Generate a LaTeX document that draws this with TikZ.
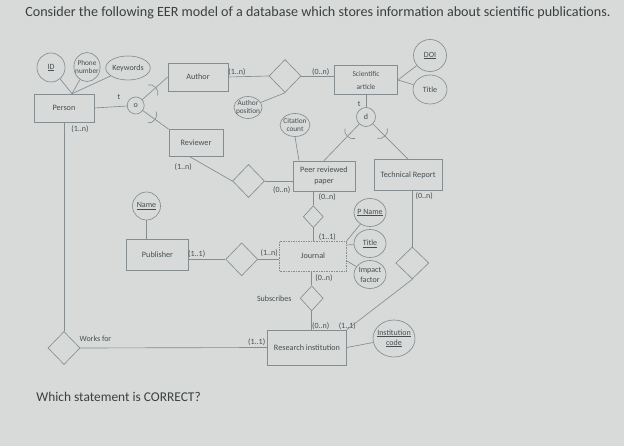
\documentclass[tikz,border=0pt]{standalone}
\usepackage{fontspec}
\setmainfont{Carlito}
\usetikzlibrary{shapes.geometric,calc}
\definecolor{bg}{HTML}{D7DAD8}
\definecolor{ln}{HTML}{858D90}
\definecolor{tx}{HTML}{474E52}
\definecolor{hd}{HTML}{3A3F42}
\begin{document}
\begin{tikzpicture}[x=1pt,y=-1pt,color=ln,line width=.65pt,
  ent/.style={draw=ln,rectangle,inner sep=1pt,align=center,text=tx,font=\fontsize{8.2}{10.5}\selectfont},
  rel/.style={draw=ln,diamond,inner sep=0pt,minimum width=32pt,minimum height=33pt},
  att/.style={draw=ln,ellipse,inner sep=0pt,align=center,text=tx,font=\fontsize{8}{10}\selectfont},
  sm/.style={font=\fontsize{7.3}{8.5}\selectfont},
  card/.style={text=tx,inner sep=0pt,font=\fontsize{8}{9}\selectfont},
  lbl/.style={text=tx,inner sep=0pt,font=\fontsize{8}{9}\selectfont},
  ques/.style={anchor=base west,inner sep=0pt,text=hd}]
\useasboundingbox (0,0) rectangle (624,446);
\fill[bg] (0,0) rectangle (624,446);
\node[ques,font=\fontsize{14.1}{16}\selectfont] (q1) at (25,16.7) {Consider the following EER model of a database which stores information about scientific publications.};
\node[ques,font=\fontsize{13.4}{15}\selectfont] (q2) at (36,401.5) {Which statement is CORRECT?};
\node[ent,minimum width=60pt,minimum height=28pt] (person) at (64,108) {Person};
\node[ent,minimum width=60pt,minimum height=28pt] (author) at (198,77) {Author};
\node[ent,minimum width=54pt,minimum height=27pt] (reviewer) at (196,143) {Reviewer};
\node[ent,minimum width=63pt,minimum height=29pt,font=\fontsize{7.4}{13}\selectfont] (sci) at (366,80) {Scientific\\article};
\node[ent,minimum width=62pt,minimum height=30pt] (peer) at (324,176) {Peer reviewed\\paper};
\node[ent,minimum width=68pt,minimum height=31pt] (tech) at (408,175) {Technical Report};
\node[ent,minimum width=62pt,minimum height=31pt] (publisher) at (157.5,255) {Publisher};
\node[ent,densely dotted,minimum width=67pt,minimum height=30pt] (journal) at (313,256) {Journal};
\node[ent,minimum width=79pt,minimum height=35pt] (research) at (307,347.5) {Research institution};
\node[att,minimum width=28pt,minimum height=29pt] (id) at (51,67.5) {\underline{ID}};
\node[att,sm,inner xsep=-2.5pt,minimum width=26pt,minimum height=29pt] (phone) at (87,67) {Phone\\number};
\node[att,minimum width=44pt,minimum height=24pt] (keywords) at (128,68) {Keywords};
\node[att,sm,inner xsep=-2.5pt,minimum width=28pt,minimum height=22pt] (apos) at (248,107.5) {Author\\position};
\node[att,minimum width=33pt,minimum height=32pt] (doi) at (430,55.5) {\underline{DOI}};
\node[att,minimum width=34pt,minimum height=29pt] (stitle) at (430,89.5) {Title};
\node[att,sm,inner xsep=-1pt,minimum width=28pt,minimum height=23pt] (citation) at (295,125) {Citation\\count};
\node[att,minimum width=28pt,minimum height=28pt] (name) at (146.5,206) {\underline{Name}};
\node[att,inner xsep=-1.5pt,minimum width=32pt,minimum height=28pt] (pname) at (370,212.5) {\underline{P Name}};
\node[att,minimum width=32pt,minimum height=28pt] (jtitle) at (370,243.5) {\underline{Title}};
\node[att,minimum width=32pt,minimum height=28pt] (impact) at (370,274.5) {Impact\\factor};
\node[att,inner xsep=-2pt,minimum width=42pt,minimum height=37pt] (icode) at (394,338.5) {\underline{Institution}\\\underline{code}};
\node[lbl,draw=ln,circle,minimum size=17pt] (o) at (135.7,105.5) {o};
\node[lbl,draw=ln,circle,minimum size=19pt] (d) at (366,117) {d};
\node[rel] (ra) at (285,76) {};
\node[rel] (rp) at (248.5,181) {};
\node[rel,minimum width=20pt,minimum height=22pt] (pj) at (313.3,216.7) {};
\node[rel] (pubj) at (241.7,259.3) {};
\node[rel,minimum width=23pt,minimum height=25pt] (sub) at (311.7,298.3) {};
\node[rel,minimum width=33pt,minimum height=32pt] (trd) at (412.3,263) {};
\node[rel] (wf) at (64,348) {};
\node[lbl] (t1) at (119,97) {t};
\node[lbl] (t2) at (359.3,104) {t};
\node[lbl] (lsub) at (274.3,298.3) {Subscribes};
\node[lbl] (lwf) at (95.5,338.3) {Works for};
\node[card] (c1) at (237,71.7) {(1..n)};
\node[card] (c2) at (320.7,71.7) {(0..n)};
\node[card] (c3) at (80,129.3) {(1..n)};
\node[card] (c4) at (183.3,166.7) {(1..n)};
\node[card] (c5) at (281.7,190) {(0..n)};
\node[card] (c6) at (327.3,197.3) {(0..n)};
\node[card] (c7) at (424.3,195.7) {(0..n)};
\node[card] (c8) at (327.3,237.3) {(1..1)};
\node[card] (c9) at (269.3,253.3) {(1..n)};
\node[card] (c10) at (196.7,254.3) {(1..1)};
\node[card] (c11) at (324,278.3) {(0..n)};
\node[card] (c12) at (320.7,325.7) {(0..n)};
\node[card] (c13) at (347.3,325.7) {(1..1)};
\node[card] (c14) at (256.7,342.3) {(1..1)};
\coordinate (pa) at ([xshift=8pt]person.north);
\draw (id)--(pa);
\draw (phone)--(pa);
\draw (keywords)--(pa);
\draw (person.east)--(o);
\draw (o)--(author.west);
\draw (o)--(reviewer.north west);
\coordinate (s1) at ($(o)!23pt!(author.west)$);
\draw ($(s1)!7pt!90:(author.west)$) to[bend left=70] ($(s1)!7pt!-90:(author.west)$);
\coordinate (s2) at ($(o)!20pt!(reviewer.north west)$);
\draw ($(s2)!7pt!90:(reviewer.north west)$) to[bend left=70] ($(s2)!7pt!-90:(reviewer.north west)$);
\draw (author.east)--(ra.west);
\draw (ra.east)--(ra.east-|sci.west);
\draw (apos)--(ra.south);
\draw (sci.east)--(doi);
\draw (sci.east)--(stitle);
\draw (sci.south)--(d.north);
\draw (d)--(peer.north);
\draw (d)--(tech.north);
\coordinate (s3) at ($(d)!23pt!(peer.north)$);
\draw ($(s3)!7pt!90:(peer.north)$) to[bend left=70] ($(s3)!7pt!-90:(peer.north)$);
\coordinate (s4) at ($(d)!23pt!(tech.north)$);
\draw ($(s4)!7pt!90:(tech.north)$) to[bend left=70] ($(s4)!7pt!-90:(tech.north)$);
\draw (citation.south)--([xshift=-25pt]peer.north);
\draw ([xshift=-6pt]reviewer.south)--(rp.west);
\draw (rp.east)--(rp.east-|peer.west);
\draw (pj.north|-peer.south)--(pj.north);
\draw (pj.south)--(pj.south|-journal.north);
\draw (pubj.west-|publisher.east)--(pubj.west);
\draw (pubj.east)--(pubj.east-|journal.west);
\draw (name)--(name.south|-publisher.north);
\draw (journal.north east)--(pname);
\draw ([yshift=11pt]journal.east)--(jtitle);
\draw ([yshift=-5pt]journal.east)--(impact);
\draw (sub.north|-journal.south)--(sub.north);
\draw (sub.south)--(sub.south|-research.north);
\draw (trd.north|-tech.south)--(trd.north);
\draw (trd.south)--(research.north east);
\draw (person.south)--(wf.north);
\draw (wf.east)--(research.west);
\draw (research.east)--(icode);
\end{tikzpicture}
\end{document}
